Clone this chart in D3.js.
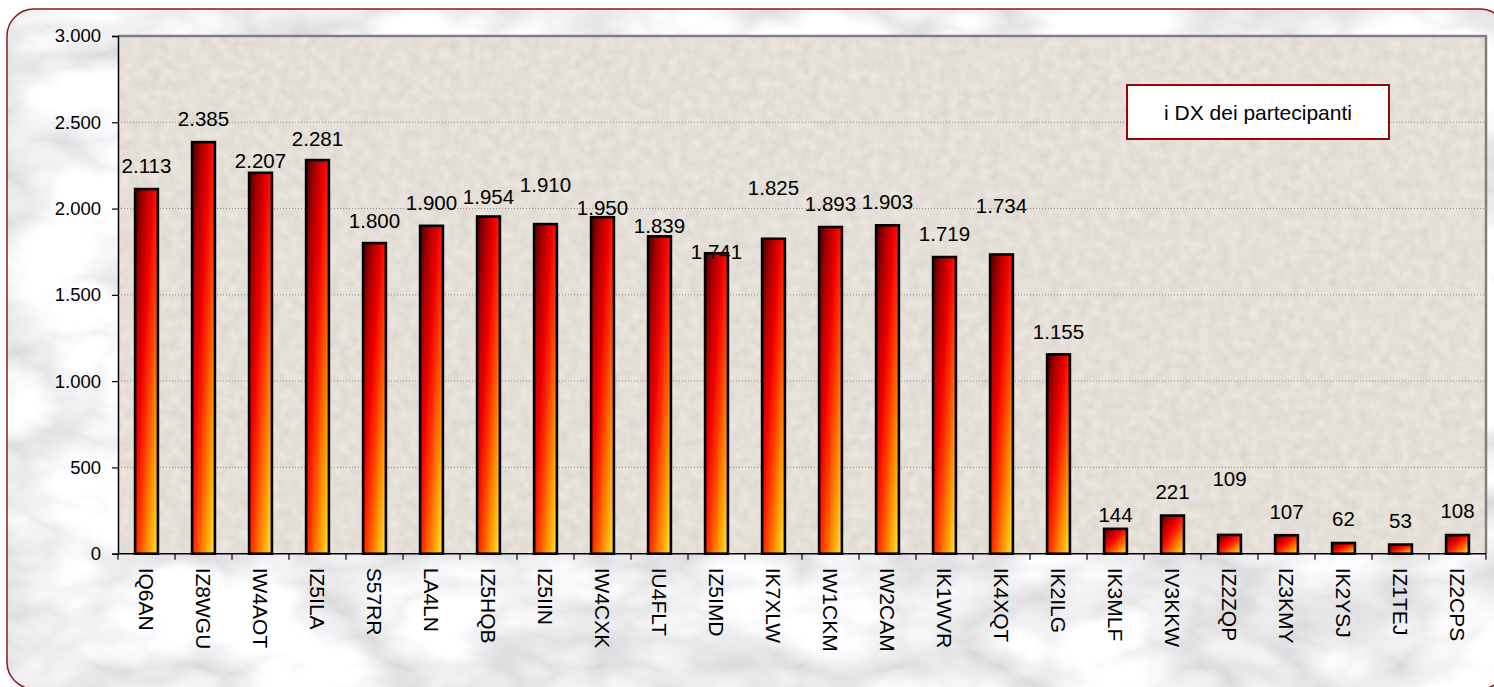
<!DOCTYPE html>
<html><head><meta charset="utf-8">
<script src="https://cdn.jsdelivr.net/npm/d3@7"></script>
<style>
html,body{margin:0;padding:0;background:#fff;}
svg{display:block;font-family:Arial,"Liberation Sans",sans-serif;}
</style></head>
<body>
<svg id="chart" width="1494" height="687"></svg>
<script>
const categories = ["IQ6AN","IZ8WGU","IW4AOT","IZ5ILA","S57RR","LA4LN","IZ5HQB","IZ5IIN","IW4CXK","IU4FLT","IZ5IMD","IK7XLW","IW1CKM","IW2CAM","IK1WVR","IK4XQT","IK2ILG","IK3MLF","IV3KKW","IZ2ZQP","IZ3KMY","IK2YSJ","IZ1TEJ","IZ2CPS"];
const values = [2113,2385,2207,2281,1800,1900,1954,1910,1950,1839,1741,1825,1893,1903,1719,1734,1155,144,221,109,107,62,53,108];
// level (in data units) of each value label's baseline, as placed in the original
const labelLevels = [2208,2478,2233,2364,1889,1992,2026,2098,1963,1860,1708,2079,1986,1997,1812,1972,1244,182,315,392,199,161,147,205];
const yTicks = [0,500,1000,1500,2000,2500,3000];
const legendText = "i DX dei partecipanti";

const plot = {left:118, right:1486, top:36, bottom:553.7};

const svg = d3.select("#chart");
const defs = svg.append("defs");

// marble background
const fm = defs.append("filter").attr("id","marble").attr("x",0).attr("y",0).attr("width","100%").attr("height","100%")
  .attr("color-interpolation-filters","sRGB");
fm.append("feTurbulence").attr("type","turbulence").attr("baseFrequency","0.005 0.009").attr("numOctaves",4).attr("seed",7).attr("result","t");
fm.append("feColorMatrix").attr("in","t").attr("type","matrix")
  .attr("values","0.35 0 0 0 0.85  0.35 0 0 0 0.85  0.35 0 0 0 0.86  0 0 0 0 1");

// speckled beige plot area
const fp = defs.append("filter").attr("id","stone").attr("x",0).attr("y",0).attr("width","100%").attr("height","100%")
  .attr("color-interpolation-filters","sRGB");
fp.append("feTurbulence").attr("type","fractalNoise").attr("baseFrequency","0.1").attr("numOctaves",2).attr("seed",3).attr("result","n");
fp.append("feColorMatrix").attr("in","n").attr("type","matrix")
  .attr("values","0.09 0 0 0 0.85  0.09 0 0 0 0.83  0.09 0 0 0 0.80  0 0 0 0 1");

const grad = defs.append("linearGradient").attr("id","barGrad")
  .attr("x1",0).attr("y1",0).attr("x2",1).attr("y2",1);
[[0,"#4a0000"],[0.2,"#a80000"],[0.4,"#f00000"],[0.55,"#ff3000"],[0.75,"#ff8a00"],[1,"#ffec30"]]
  .forEach(([o,c])=>grad.append("stop").attr("offset",o).attr("stop-color",c));

const clip = defs.append("clipPath").attr("id","outerClip");
clip.append("rect").attr("x",7).attr("y",9).attr("width",1500).attr("height",680).attr("rx",27);

// outer area
svg.append("rect").attr("x",7).attr("y",9).attr("width",1500).attr("height",680).attr("rx",27)
  .attr("fill","#eeeeee").attr("filter","url(#marble)").attr("clip-path","url(#outerClip)");
svg.append("rect").attr("x",7).attr("y",9).attr("width",1500).attr("height",680).attr("rx",27)
  .attr("fill","none").attr("stroke","#8b1a1a").attr("stroke-width",1.5);

// scales
const x = d3.scaleBand().domain(categories).range([plot.left, plot.right]).paddingInner(0.6).paddingOuter(0.3);
const y = d3.scaleLinear().domain([0,3000]).range([plot.bottom, plot.top]);
const fmt = d3.formatLocale({decimal:",", thousands:".", grouping:[3], currency:["","€"]}).format(",d");

// plot background
svg.append("rect").attr("x",plot.left).attr("y",plot.top).attr("width",plot.right-plot.left).attr("height",plot.bottom-plot.top)
  .attr("fill","#e5e0d8").attr("filter","url(#stone)");

// gridlines
svg.append("g").selectAll("line").data(yTicks.filter(t=>t>0 && t<3000)).join("line")
  .attr("x1",plot.left).attr("x2",plot.right).attr("y1",d=>y(d)).attr("y2",d=>y(d))
  .attr("stroke","#8a8a8a").attr("stroke-width",1).attr("stroke-dasharray","1,2");

// top & right borders
svg.append("line").attr("x1",plot.left).attr("x2",plot.right+1).attr("y1",plot.top).attr("y2",plot.top)
  .attr("stroke","#7f7f7f").attr("stroke-width",2.5);
svg.append("line").attr("x1",plot.right).attr("x2",plot.right).attr("y1",plot.top).attr("y2",plot.bottom)
  .attr("stroke","#7f7f7f").attr("stroke-width",2.5);

// bars
svg.append("g").selectAll("rect").data(values).join("rect")
  .attr("x",(d,i)=>x(categories[i])).attr("width",x.bandwidth())
  .attr("y",d=>y(d)).attr("height",d=>y(0)-y(d))
  .attr("fill","url(#barGrad)").attr("stroke","#000").attr("stroke-width",2.6);

// y axis
const yAxis = svg.append("g").attr("transform",`translate(${plot.left},0)`)
  .call(d3.axisLeft(y).tickValues(yTicks).tickFormat(fmt).tickSizeOuter(0).tickSize(6).tickPadding(11));
yAxis.select(".domain").attr("stroke","#000").attr("stroke-width",1.5);
yAxis.selectAll(".tick line").attr("stroke","#000").attr("stroke-width",1.2);
yAxis.selectAll(".tick text").attr("font-size","18.5px").attr("fill","#000")
  .attr("font-family",'Arial,"Liberation Sans",sans-serif');

// x axis (ticks at category boundaries)
const boundaries = categories.map(c=>x(c)-x.step()*x.paddingOuter()).concat([plot.right]);
svg.append("line").attr("x1",plot.left).attr("x2",plot.right).attr("y1",plot.bottom).attr("y2",plot.bottom)
  .attr("stroke","#000").attr("stroke-width",1.5);
svg.append("g").selectAll("line").data(boundaries).join("line")
  .attr("x1",d=>d).attr("x2",d=>d).attr("y1",plot.bottom).attr("y2",plot.bottom+6)
  .attr("stroke","#000").attr("stroke-width",1.2);

// category labels
svg.append("g").selectAll("text").data(categories).join("text")
  .attr("transform",d=>`translate(${x(d)+x.bandwidth()/2},${plot.bottom+14}) rotate(90)`)
  .attr("text-anchor","start").attr("dominant-baseline","central")
  .attr("font-size","21px").attr("fill","#000").text(d=>d);

// value labels
svg.append("g").selectAll("text").data(values).join("text")
  .attr("x",(d,i)=>x(categories[i])+x.bandwidth()/2)
  .attr("y",(d,i)=>y(labelLevels[i]))
  .attr("text-anchor","middle").attr("font-size","20.5px").attr("fill","#000")
  .text(d=>fmt(d));

// legend box
const lg = svg.append("g");
lg.append("rect").attr("x",1127).attr("y",85).attr("width",262).attr("height",54)
  .attr("fill","#fff").attr("stroke","#8b0a0a").attr("stroke-width",2);
lg.append("text").attr("x",1127+131).attr("y",112).attr("text-anchor","middle").attr("dominant-baseline","central")
  .attr("font-size","21px").attr("fill","#000").text(legendText);
</script>
</body></html>
